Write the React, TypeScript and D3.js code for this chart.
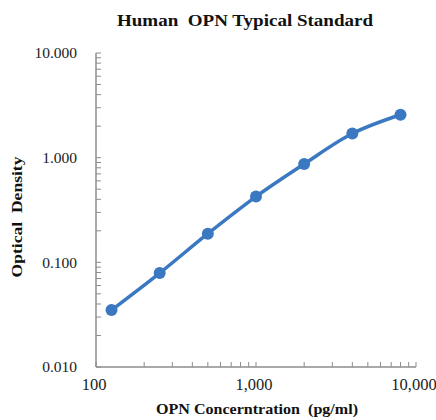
import { useRef, useEffect } from "react";
import * as d3 from "d3";

// standard curve readings
const concentrations = [125, 250, 500, 1000, 2000, 4000, 8000];
const densities = [0.035, 0.079, 0.188, 0.425, 0.87, 1.7, 2.57];
const xTicks = [100, 1000, 10000];
const yTicks = [0.01, 0.1, 1, 10];

export default function App() {
  const svgRef = useRef<SVGSVGElement>(null);

  useEffect(() => {
    const svg = d3.select(svgRef.current);
    svg.selectAll("*").remove();

    const width = 436;
    const height = 420;
    const margin = { top: 53, right: 20, bottom: 53, left: 96 };
    const font = "'Liberation Serif', 'Times New Roman', serif";
    const blue = "#3b78c2";
    const axisColor = "#8c8c8c";

    svg.attr("width", width).attr("height", height).style("font-family", font);

    const x = d3
      .scaleLog()
      .domain([100, 10000])
      .range([margin.left, width - margin.right]);
    const y = d3
      .scaleLog()
      .domain([0.01, 10])
      .range([height - margin.bottom, margin.top]);

    const x0 = margin.left;
    const y0 = height - margin.bottom;

    // minor + major ticks, drawn inside the plot like Excel
    svg
      .append("g")
      .selectAll("line")
      .data(x.ticks())
      .join("line")
      .attr("x1", (d) => x(d))
      .attr("x2", (d) => x(d))
      .attr("y1", y0)
      .attr("y2", y0 - 5)
      .attr("stroke", axisColor);

    svg
      .append("g")
      .selectAll("line")
      .data(y.ticks())
      .join("line")
      .attr("x1", x0)
      .attr("x2", x0 + 5)
      .attr("y1", (d) => y(d))
      .attr("y2", (d) => y(d))
      .attr("stroke", axisColor);

    // axis lines
    svg
      .append("line")
      .attr("x1", x0)
      .attr("x2", x0)
      .attr("y1", margin.top)
      .attr("y2", y0)
      .attr("stroke", axisColor)
      .attr("stroke-width", 1.5);
    svg
      .append("line")
      .attr("x1", x0)
      .attr("x2", width - margin.right)
      .attr("y1", y0)
      .attr("y2", y0)
      .attr("stroke", axisColor)
      .attr("stroke-width", 1.5);

    // tick labels
    svg
      .append("g")
      .selectAll("text")
      .data(yTicks)
      .join("text")
      .attr("x", 77)
      .attr("y", (d) => y(d))
      .attr("dy", "0.35em")
      .attr("text-anchor", "end")
      .attr("font-size", 15.5)
      .attr("fill", "#222")
      .text((d) => d3.format(".3f")(d));

    svg
      .append("g")
      .selectAll("text")
      .data(xTicks)
      .join("text")
      .attr("x", (d) => x(d) - 2)
      .attr("y", 390)
      .attr("text-anchor", "middle")
      .attr("font-size", 16.5)
      .attr("fill", "#222")
      .text((d) => d3.format(",")(d));

    // curve
    const pts: [number, number][] = concentrations.map((c, i) => [x(c), y(densities[i])]);
    svg
      .append("path")
      .attr("d", d3.line().curve(d3.curveCatmullRom.alpha(0.5))(pts))
      .attr("fill", "none")
      .attr("stroke", blue)
      .attr("stroke-width", 3.5);

    svg
      .append("g")
      .selectAll("circle")
      .data(pts)
      .join("circle")
      .attr("cx", (d) => d[0])
      .attr("cy", (d) => d[1])
      .attr("r", 6)
      .attr("fill", blue);

    // title and axis titles
    svg
      .append("text")
      .attr("x", 245)
      .attr("y", 26)
      .attr("text-anchor", "middle")
      .attr("font-size", 17)
      .attr("font-weight", "bold")
      .attr("fill", "#111")
      .attr("xml:space", "preserve")
      .attr("textLength", 256)
      .attr("lengthAdjust", "spacingAndGlyphs")
      .text("Human  OPN Typical Standard");

    svg
      .append("text")
      .attr("x", 257)
      .attr("y", 414)
      .attr("text-anchor", "middle")
      .attr("font-size", 14.5)
      .attr("font-weight", "bold")
      .attr("fill", "#111")
      .attr("xml:space", "preserve")
      .attr("textLength", 202)
      .attr("lengthAdjust", "spacingAndGlyphs")
      .text("OPN Concerntration  (pg/ml)");

    svg
      .append("text")
      .attr("transform", "translate(22,217) rotate(-90)")
      .attr("text-anchor", "middle")
      .attr("font-size", 14.5)
      .attr("font-weight", "bold")
      .attr("fill", "#111")
      .attr("xml:space", "preserve")
      .attr("textLength", 121)
      .attr("lengthAdjust", "spacingAndGlyphs")
      .text("Optical  Density");
  }, []);

  return (
    <svg
      ref={svgRef}
      style={{ position: "absolute", left: 0, top: 0, display: "block" }}
    />
  );
}
